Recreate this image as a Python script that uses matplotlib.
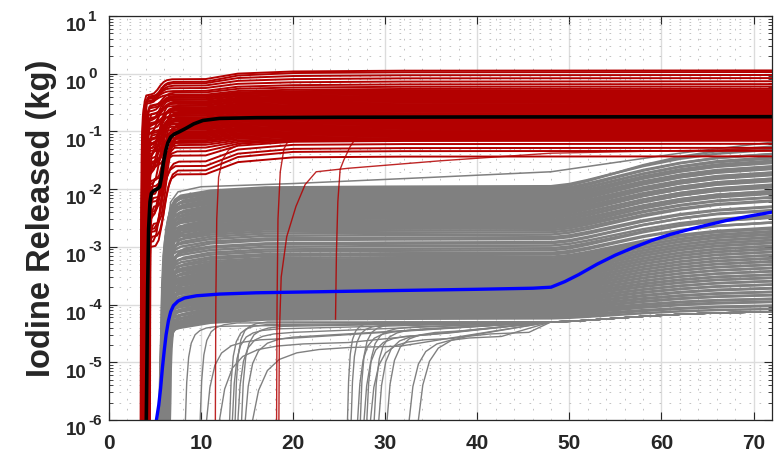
import numpy as np
import matplotlib
matplotlib.use("Agg")
import matplotlib.pyplot as plt
from matplotlib.ticker import FixedLocator, NullFormatter

plt.rcParams['font.family'] = ['Liberation Sans', 'DejaVu Sans']
plt.rcParams['lines.scale_dashes'] = False

# ---------------------------------------------------------------- data
x_ticks = [0, 10, 20, 30, 40, 50, 60, 70]
y_decades = [-6, -5, -4, -3, -2, -1, 0, 1]
y_label = "Iodine Released (kg)"

# expected value of the high-release group (black)
red_mean_t = [4.05, 4.12, 4.2, 4.3, 4.45, 4.6, 4.9, 5.3, 5.5, 5.7, 5.9, 6.15,
              6.4, 6.7, 7.1, 7.6, 8.3, 9.2, 10.2, 12, 16, 25, 40, 72]
red_mean_v = [1e-6, 1e-5, 2e-4, 2e-3, 6e-3, 8.5e-3, 9.5e-3, 1.02e-2, 1.1e-2, 1.6e-2,
              2.8e-2, 4.6e-2, 6.4e-2, 8.0e-2, 9.0e-2, 9.8e-2, 1.12e-1, 1.35e-1,
              1.55e-1, 1.68e-1, 1.73e-1, 1.76e-1, 1.78e-1, 1.8e-1]

# expected value of the low-release group (blue)
gray_mean_t = [5.15, 5.4, 5.6, 5.8, 6.0, 6.2, 6.45, 6.7, 7.0, 7.5, 8.2, 9.5, 12, 16,
               22, 30, 40, 46, 48, 49.5, 51, 53, 55, 57, 59, 61, 63, 65, 67, 69.5, 72]
gray_mean_v = [1e-6, 1.8e-6, 3.5e-6, 8e-6, 1.6e-5, 3e-5, 5.2e-5, 7.5e-5, 9.6e-5,
               1.15e-4, 1.3e-4, 1.42e-4, 1.52e-4, 1.6e-4, 1.66e-4, 1.74e-4, 1.84e-4,
               1.92e-4, 2.0e-4, 2.5e-4, 3.3e-4, 5.0e-4, 7.2e-4, 9.8e-4, 1.3e-3,
               1.65e-3, 2.0e-3, 2.4e-3, 2.85e-3, 3.4e-3, 4.0e-3]

# high-release realizations: onset (h), level right after onset, level at 10 h, level at 72 h
red_onset = [3.55, 3.70, 3.60, 3.80, 3.50, 3.65, 3.90, 3.45, 3.75, 4.00,
             3.60, 3.85, 3.50, 4.10, 3.70, 3.95, 3.55, 4.20, 3.65, 3.80,
             4.05, 3.50, 3.90, 4.30, 3.60, 3.75, 4.15, 3.45, 3.85, 4.00,
             3.70, 4.25, 3.55, 3.95, 4.40, 3.65, 3.80, 4.10, 3.50, 3.90,
             4.20, 3.60, 4.05, 3.75, 4.35, 3.85, 3.55, 4.15, 3.70, 4.00,
             4.45, 3.65, 3.95, 4.25, 3.80, 4.10, 3.60, 4.30, 3.90, 4.20, 4.05]
red_early = [0.42, 0.38, 0.33, 0.40, 0.30, 0.36, 0.27, 0.32, 0.22, 0.28,
             0.15, 0.25, 0.09, 0.20, 0.05, 0.17, 0.12, 0.03, 0.19, 0.07,
             0.14, 0.02, 0.11, 0.045, 0.16, 0.012, 0.085, 0.035, 0.13, 0.008,
             0.06, 0.10, 0.018, 0.075, 0.005, 0.04, 0.09, 0.014, 0.055, 0.0035,
             0.028, 0.07, 0.0095, 0.045, 0.0025, 0.022, 0.06, 0.006, 0.033, 0.0018,
             0.015, 0.05, 0.004, 0.025, 0.0012, 0.011, 0.003, 0.007, 0.002, 0.0015, 0.001]
red_10h = [0.80, 0.72, 0.68, 0.62, 0.56, 0.50, 0.47, 0.43, 0.41, 0.39,
           0.38, 0.36, 0.35, 0.33, 0.32, 0.31, 0.30, 0.285, 0.275, 0.26,
           0.25, 0.24, 0.23, 0.22, 0.215, 0.205, 0.20, 0.19, 0.185, 0.175,
           0.168, 0.16, 0.154, 0.148, 0.143, 0.137, 0.132, 0.126, 0.12, 0.116,
           0.111, 0.106, 0.10, 0.097, 0.093, 0.089, 0.085, 0.081, 0.077, 0.074,
           0.070, 0.067, 0.063, 0.058, 0.052, 0.045, 0.038, 0.030, 0.025, 0.021, 0.018]
red_final = [1.14, 1.07, 0.95, 0.84, 0.74, 0.66, 0.60, 0.55, 0.52, 0.50,
             0.48, 0.46, 0.44, 0.42, 0.405, 0.39, 0.375, 0.36, 0.345, 0.33,
             0.315, 0.30, 0.29, 0.28, 0.27, 0.26, 0.25, 0.24, 0.23, 0.22,
             0.21, 0.20, 0.193, 0.186, 0.179, 0.172, 0.165, 0.158, 0.151, 0.145,
             0.139, 0.133, 0.127, 0.122, 0.117, 0.112, 0.107, 0.102, 0.098, 0.094,
             0.090, 0.086, 0.082, 0.078, 0.075, 0.072, 0.069, 0.061, 0.052, 0.046, 0.037]

# high-release realizations that start late
red_late_a_t = [11.55, 11.6, 11.7, 11.9, 12.3, 13.0, 14.5, 20, 72]
red_late_a_v = [1e-6, 1e-4, 3e-3, 1.6e-2, 3.2e-2, 4.8e-2, 6.3e-2, 7.5e-2, 8.0e-2]
red_late_b_t = [18.2, 18.25, 18.35, 18.6, 19.0, 19.6, 20.5, 23, 72]
red_late_b_v = [1e-6, 1e-4, 3e-3, 2e-2, 5e-2, 7.6e-2, 9e-2, 1.0e-1, 1.05e-1]
red_late_c_t = [18.45, 18.5, 18.7, 19.3, 20.3, 21.3, 22.5, 26, 36, 48, 72]
red_late_c_v = [1e-6, 3e-5, 3e-4, 1.5e-3, 5e-3, 1.2e-2, 2.0e-2, 2.3e-2, 3.1e-2, 4.2e-2, 5.0e-2]
red_late_d_t = [24.6, 24.7, 24.85, 25.1, 25.5, 26.2, 27.3, 30, 72]
red_late_d_v = [5.6e-5, 8e-4, 6e-3, 2.2e-2, 3.2e-2, 5.5e-2, 1.0e-1, 1.15e-1, 1.2e-1]

# low-release realizations: onset (h), level at 17 h, growth factor 48 h -> 72 h
gray_onset = [5.9, 6.2, 5.6, 6.4, 6.0, 5.7, 6.3, 5.5, 6.1, 6.5,
              5.8, 6.0, 6.6, 5.6, 6.2, 5.9, 6.4, 5.7, 6.1, 5.5,
              6.3, 5.8, 6.0, 6.5, 5.6, 6.2, 5.9, 6.4, 5.7, 6.1,
              6.0, 5.5, 6.3, 5.8, 6.6, 5.9, 6.1, 5.6, 6.4, 6.0,
              5.7, 6.2, 5.9, 6.5, 5.8, 6.0, 6.3, 5.6, 6.1, 5.9,
              6.2, 5.7, 6.4, 6.0, 5.8, 6.3, 5.9, 6.1, 5.6, 6.5,
              6.0, 5.8, 6.2, 5.7, 6.4, 5.9, 6.1, 5.6, 6.3, 6.0,
              5.8, 6.2, 5.9, 6.5, 5.7, 6.1, 6.0, 5.6, 6.3, 5.9,
              6.2, 5.8, 6.0, 6.4, 5.7, 6.1, 5.9, 6.2, 5.8, 6.0,
              6.3, 5.9, 6.1, 6.0]
gray_level = [5.5e-5, 5.8e-5, 6.1e-5, 6.4e-5, 6.7e-5, 7.0e-5, 7.4e-5, 7.7e-5, 8.1e-5, 8.5e-5,
              8.9e-5, 9.3e-5, 9.8e-5, 1.03e-4, 1.08e-4, 1.13e-4, 1.18e-4, 1.24e-4, 1.30e-4, 1.36e-4,
              1.43e-4, 1.50e-4, 1.57e-4, 1.65e-4, 1.73e-4, 1.81e-4, 1.90e-4, 1.99e-4, 2.09e-4, 2.19e-4,
              2.30e-4, 2.41e-4, 2.52e-4, 2.65e-4, 2.78e-4, 2.91e-4, 3.05e-4, 3.20e-4, 3.36e-4, 3.52e-4,
              3.69e-4, 3.87e-4, 4.06e-4, 4.26e-4, 4.47e-4, 4.69e-4, 4.92e-4, 5.16e-4, 5.41e-4, 5.67e-4,
              5.95e-4, 6.4e-4, 7.0e-4, 7.5e-4, 8.3e-4, 9.0e-4, 1.0e-3, 1.1e-3, 1.15e-3, 1.3e-3,
              1.4e-3, 1.55e-3, 1.7e-3, 1.85e-3, 2.0e-3, 2.1e-3, 2.2e-3, 2.35e-3, 2.5e-3, 2.65e-3,
              2.8e-3, 3.0e-3, 3.15e-3, 3.35e-3, 3.55e-3, 3.75e-3, 4.0e-3, 4.2e-3, 4.45e-3, 4.7e-3,
              5.0e-3, 5.3e-3, 5.6e-3, 5.9e-3, 6.3e-3, 6.6e-3, 7.0e-3, 7.4e-3, 7.9e-3, 8.3e-3,
              8.8e-3, 9.4e-3, 1.0e-2, 1.07e-2]
gray_gain = [1.45, 1.55, 1.5, 1.65, 1.6, 1.7, 1.62, 1.8, 1.72, 1.85,
             1.78, 1.95, 1.88, 2.05, 1.96, 2.15, 2.05, 2.25, 2.12, 2.3,
             2.2, 2.4, 2.28, 2.5, 2.36, 2.6, 2.45, 2.7, 2.52, 2.78,
             2.6, 2.85, 2.7, 2.95, 2.78, 3.05, 2.85, 3.1, 2.92, 3.2,
             3.0, 3.25, 3.05, 3.3, 3.1, 3.4, 3.15, 3.45, 3.2, 3.5,
             3.3, 3.2, 3.6, 3.35, 3.7, 3.4, 3.3, 3.75, 3.5, 3.6,
             3.4, 3.8, 3.55, 3.7, 3.45, 3.9, 3.6, 3.75, 3.5, 3.95,
             3.65, 3.8, 3.55, 4.0, 3.7, 3.85, 3.6, 4.05, 3.75, 3.9,
             3.7, 4.1, 3.8, 3.95, 3.75, 4.2, 3.85, 4.0, 4.3, 3.9,
             4.4, 4.1, 5.2, 4.3]

# a single low-release run that keeps climbing above the band
gray_top_t = [6.0, 6.1, 6.3, 6.7, 7.5, 10, 20, 35, 48, 55, 62, 72]
gray_top_v = [1e-6, 1e-4, 2e-3, 6e-3, 9e-3, 1.1e-2, 1.25e-2, 1.6e-2, 2.0e-2, 2.9e-2, 4.2e-2, 6.5e-2]

# low-release runs that start late: onset (h), level after the rise, rise duration (h)
late_onset = [8.3, 9.9, 10.6, 12.0, 13.1, 13.4, 13.7, 14.0, 14.4, 14.8, 15.6, 25.9,
              26.3, 27.0, 27.3, 27.7, 28.0, 28.4, 28.8, 29.3, 30.2, 32.6, 33.6]
late_level = [4.2e-5, 4.8e-5, 2.6e-5, 2.2e-5, 4.5e-5, 3.8e-5, 5.0e-5, 3.3e-5, 4.2e-5, 2.9e-5,
              1.9e-5, 5.0e-5, 4.4e-5, 3.6e-5, 4.6e-5, 3.0e-5, 4.1e-5, 2.6e-5, 3.8e-5, 3.2e-5,
              3.5e-5, 2.8e-5, 3.3e-5]
late_width = [3.5, 4.0, 9.0, 14.0, 4.0, 5.0, 3.5, 6.0, 4.5, 8.0, 16.0, 3.0,
              3.5, 6.0, 4.0, 7.0, 5.0, 9.0, 5.5, 7.5, 8.0, 10.0, 12.0]

# shared shape of a release front, a second release step and the late growth
RISE_FRAC_T = [0.0, 0.04, 0.1, 0.18, 0.3, 0.45, 0.65, 1.0]
RISE_LEFT = [1.0, 0.6, 0.33, 0.18, 0.09, 0.045, 0.018, 0.0]
STEP_FRAC_T = [0.0, 0.15, 0.3, 0.45, 0.6, 0.75, 1.0]
STEP_DONE = [0.0, 0.08, 0.3, 0.6, 0.82, 0.94, 1.0]
LATE_T = [48, 50, 52, 55, 58, 62, 66, 72]
LATE_DONE = [0.0, 0.06, 0.17, 0.36, 0.55, 0.75, 0.89, 1.0]

RED = '#b30000'
GRAY = '#808080'


def rise(t0, lo, hi, width):
    a, b = np.log10(lo), np.log10(hi)
    return ([t0 + f * width for f in RISE_FRAC_T],
            [10 ** (b - (b - a) * r) for r in RISE_LEFT])


def step(t0, lo, hi, width):
    a, b = np.log10(lo), np.log10(hi)
    return ([t0 + f * width for f in STEP_FRAC_T],
            [10 ** (a + (b - a) * d) for d in STEP_DONE])


def late_growth(v48, gain):
    return list(LATE_T), [v48 * gain ** d for d in LATE_DONE]


fig = plt.figure(figsize=(7.8, 4.58), dpi=100)
ax = fig.add_axes([109 / 780, 38 / 458, 663 / 780, 404 / 458])
ax.set_yscale('log')
ax.set_xlim(0, 72)
ax.set_ylim(1e-6, 10)

# low-release group
for t0, p, g in zip(gray_onset, gray_level, gray_gain):
    t, v = rise(t0, 1e-6, 0.72 * p, 1.8)
    t += [11, 17, 30]
    v += [0.88 * p, p, 1.03 * p]
    tl, vl = late_growth(1.05 * p, g)
    ax.plot(t + tl, v + vl, color=GRAY, lw=1.8)

ax.plot(gray_top_t, gray_top_v, color=GRAY, lw=1.1)

for t0, p, w in zip(late_onset, late_level, late_width):
    t, v = rise(t0, 1e-6, p, w)
    tl, vl = late_growth(5.0e-5, 1.5)
    ax.plot(t + tl, v + vl, color=GRAY, lw=1.0)

# high-release group
for t0, e, v10, vf in zip(red_onset, red_early, red_10h, red_final):
    t, v = rise(t0, 1e-6, e, 0.5)
    e2 = min(e * 1.04, v10)
    ts, vs = step(t0 + 1.0, e2, v10, 2.3)
    t = t + ts + [10.5, 14, 20, 32, 72]
    v = v + vs + [v10 * 1.01, v10 + (vf - v10) * 0.6, vf * 0.96, vf * 0.99, vf]
    ax.plot(t, v, color=RED, lw=1.4)

for tt, vv in [(red_late_a_t, red_late_a_v), (red_late_b_t, red_late_b_v),
               (red_late_c_t, red_late_c_v), (red_late_d_t, red_late_d_v)]:
    ax.plot(tt, vv, color=RED, lw=1.0, alpha=0.85)

# group means
ax.plot(red_mean_t, red_mean_v, color='black', lw=2.6, solid_capstyle='round')
ax.plot(gray_mean_t, gray_mean_v, color='#0000ff', lw=2.4, solid_capstyle='round')

# axes styling
ax.xaxis.set_major_locator(FixedLocator(x_ticks))
ax.xaxis.set_minor_locator(FixedLocator(np.arange(0, 73, 2)))
ax.yaxis.set_major_locator(FixedLocator([10.0 ** k for k in y_decades]))
ax.yaxis.set_minor_locator(FixedLocator([m * 10.0 ** k for k in y_decades[:-1] for m in range(2, 10)]))
ax.yaxis.set_major_formatter(NullFormatter())
ax.yaxis.set_minor_formatter(NullFormatter())
ax.set_xticklabels([str(v) for v in x_ticks], fontsize=15, fontweight='bold', color='#262626')

ax.grid(which='major', color='#dcdcdc', lw=1.0, ls='-')
ax.grid(which='minor', color='#b8b8b8', lw=0.6, ls=(0, (1.2, 6)))
ax.set_axisbelow(True)

ax.tick_params(which='major', direction='in', length=6, width=0.8, color='#262626',
               top=True, right=True, pad=10)
ax.tick_params(axis='y', which='minor', direction='in', length=3, width=0.6,
               color='#262626', left=True, right=True)
ax.tick_params(axis='x', which='minor', length=0)
for s in ax.spines.values():
    s.set_color('#262626')
    s.set_linewidth(0.9)

for k in y_decades:
    ax.annotate('10', xy=(0, 10.0 ** k), xycoords=('axes fraction', 'data'),
                xytext=(-15.8, -11.0), textcoords='offset points',
                ha='right', va='baseline', fontsize=13.5, fontweight='bold', color='#262626')
    ax.annotate(str(k), xy=(0, 10.0 ** k), xycoords=('axes fraction', 'data'),
                xytext=(-15.2, -3.3), textcoords='offset points',
                ha='left', va='baseline', fontsize=11, fontweight='bold', color='#262626')

fig.text(42 / 780, 1 - 218 / 458, y_label, rotation=90, ha='center', va='center',
         fontsize=23.5, fontweight='bold', color='#262626')

fig.savefig('out.png', dpi=100)
